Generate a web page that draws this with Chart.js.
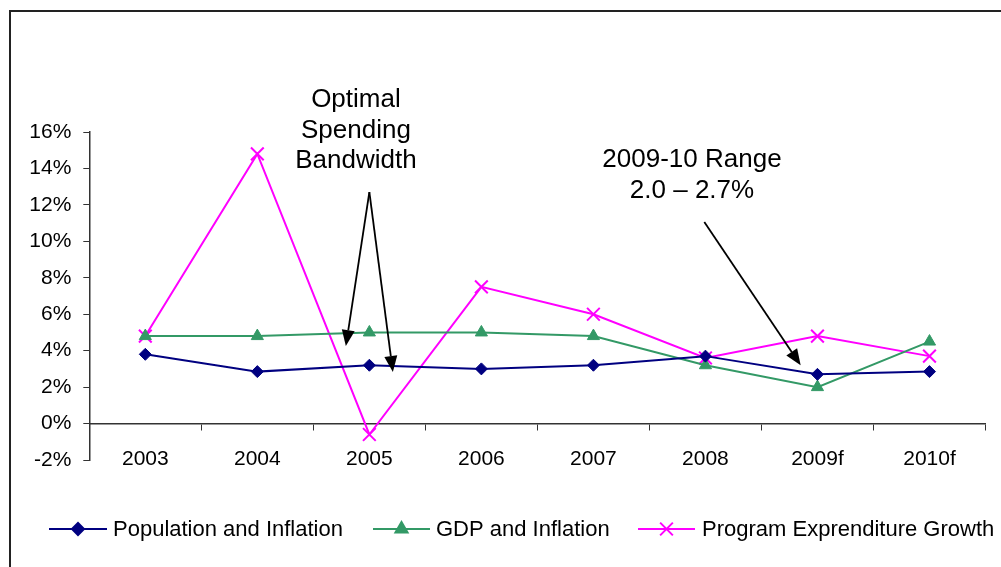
<!DOCTYPE html>
<html lang="en">
<head>
  <meta charset="UTF-8" />
  <title>Spending Growth</title>
  <script src="https://cdn.jsdelivr.net/npm/chart.js@4.4.1/dist/chart.umd.min.js"></script>
  <style>
    html, body { margin: 0; padding: 0; background: #fff; overflow: hidden; }
    #wrap { position: relative; width: 1001px; height: 567px; overflow: hidden; }
    #frame {
      position: absolute; left: 9px; top: 10px; width: 1200px; height: 800px;
      border: 2px solid #222; box-sizing: border-box;
    }
    #chart { position: absolute; left: 0; top: 0; }
  </style>
</head>
<body>
  <div id="wrap">
    <div id="frame"></div>
    <canvas id="chart" width="1001" height="567"></canvas>
  </div>

  <script>
    // ------------
    // DATA
    // ------------
    const years = ["2003", "2004", "2005", "2006", "2007", "2008", "2009f", "2010f"];
    const popInflation = [3.8, 2.85, 3.2, 3.0, 3.2, 3.7, 2.7, 2.85];
    const gdpInflation = [4.8, 4.8, 5.0, 5.0, 4.8, 3.2, 2.0, 4.5];
    const programGrowth = [4.8, 14.8, -0.6, 7.5, 6.0, 3.6, 4.8, 3.7];
    const yTicks = [-2, 0, 2, 4, 6, 8, 10, 12, 14, 16];

    const FONT = "'Liberation Sans', Arial, sans-serif";

    // -------------------------------
    // ANNOTATIONS (text + arrows, in data units: category index, percent)
    // -------------------------------
    const noteBlocks = [
      { x: 1.88, y: 17.75, lines: ["Optimal", "Spending", "Bandwidth"] },
      { x: 4.88, y: 14.45, lines: ["2009-10 Range", "2.0 \u2013 2.7%"] },
    ];
    const arrows = [
      { from: [2.0, 12.7], to: [1.79, 4.25] },
      { from: [2.0, 12.7], to: [2.21, 2.83] },
      { from: [4.99, 11.06], to: [5.85, 3.2] },
    ];

    function drawArrow(ctx, x1, y1, x2, y2) {
      const ang = Math.atan2(y2 - y1, x2 - x1);
      const len = 16, half = 6.5;
      const bx = x2 - len * Math.cos(ang);
      const by = y2 - len * Math.sin(ang);
      ctx.beginPath();
      ctx.moveTo(x1, y1);
      ctx.lineTo(bx, by);
      ctx.stroke();
      ctx.beginPath();
      ctx.moveTo(x2, y2);
      ctx.lineTo(bx + half * Math.sin(ang), by - half * Math.cos(ang));
      ctx.lineTo(bx - half * Math.sin(ang), by + half * Math.cos(ang));
      ctx.closePath();
      ctx.fill();
    }

    const notesPlugin = {
      id: "notes",
      afterDatasetsDraw(chart) {
        const { ctx, scales } = chart;
        ctx.save();
        ctx.fillStyle = "#000";
        ctx.strokeStyle = "#000";
        ctx.lineWidth = 1.8;
        ctx.font = "26px " + FONT;
        ctx.textAlign = "center";
        ctx.textBaseline = "middle";
        noteBlocks.forEach((b) => {
          const px = scales.x.getPixelForValue(b.x);
          const py = scales.y.getPixelForValue(b.y);
          b.lines.forEach((t, i) => ctx.fillText(t, px, py + i * 30.5));
        });
        arrows.forEach((a) => {
          drawArrow(
            ctx,
            scales.x.getPixelForValue(a.from[0]), scales.y.getPixelForValue(a.from[1]),
            scales.x.getPixelForValue(a.to[0]), scales.y.getPixelForValue(a.to[1])
          );
        });
        ctx.restore();
      },
    };

    // -------------------------------
    // LEGEND (line + marker + label)
    // -------------------------------
    const legendSlots = [
      { x0: 49, x1: 107, tx: 113 },
      { x0: 373, x1: 430, tx: 436 },
      { x0: 638, x1: 695, tx: 702 },
    ];
    const legendY = 529;

    const legendPlugin = {
      id: "lineLegend",
      afterDraw(chart) {
        const { ctx } = chart;
        ctx.save();
        ctx.font = "22px " + FONT;
        ctx.textAlign = "left";
        ctx.textBaseline = "middle";
        chart.data.datasets.forEach((ds, i) => {
          const s = legendSlots[i];
          ctx.strokeStyle = ds.borderColor;
          ctx.fillStyle = ds.backgroundColor;
          ctx.lineWidth = 2;
          ctx.beginPath();
          ctx.moveTo(s.x0, legendY);
          ctx.lineTo(s.x1, legendY);
          ctx.stroke();
          Chart.helpers.drawPoint(ctx, {
            pointStyle: ds.pointStyle,
            radius: ds.pointRadius,
            borderWidth: ds.pointBorderWidth,
            rotation: 0,
          }, (s.x0 + s.x1) / 2, legendY);
          ctx.fillStyle = "#000";
          ctx.fillText(ds.label, s.tx, legendY + 1);
        });
        ctx.restore();
      },
    };

    // -------------------------------
    // CHART
    // -------------------------------
    function series(label, data, color, style, radius) {
      return {
        label: label,
        data: data,
        borderColor: color,
        backgroundColor: color,
        borderWidth: 2,
        pointStyle: style,
        pointRadius: radius,
        pointHoverRadius: radius,
        pointBorderWidth: style === "crossRot" ? 2 : 1,
        tension: 0,
      };
    }

    new Chart(document.getElementById("chart"), {
      type: "line",
      data: {
        labels: years,
        datasets: [
          series("Population and Inflation", popInflation, "#000080", "rectRot", 6),
          series("GDP and Inflation", gdpInflation, "#339966", "triangle", 7),
          series("Program Exprenditure Growth", programGrowth, "#FF00FF", "crossRot", 9),
        ],
      },
      options: {
        responsive: false,
        animation: false,
        events: [],
        layout: { padding: { top: 132, bottom: 107, left: 0, right: 15.5 } },
        plugins: { legend: { display: false }, tooltip: { enabled: false } },
        scales: {
          x: {
            type: "category",
            offset: true,
            position: { y: 0 },
            grid: { drawOnChartArea: false, drawTicks: true, tickLength: 6, color: "#333", offset: true },
            border: { display: true, color: "#333", width: 1.5 },
            ticks: { color: "#000", font: { family: FONT, size: 21 }, padding: 17, maxRotation: 0 },
          },
          y: {
            min: -2,
            max: 16,
            afterFit(scale) { scale.width = 89.3; },
            afterBuildTicks(scale) { scale.ticks = yTicks.map((v) => ({ value: v })); },
            grid: { drawOnChartArea: false, drawTicks: true, tickLength: 6, color: "#333" },
            border: { display: true, color: "#333", width: 1.5 },
            ticks: {
              color: "#000",
              padding: 12,
              font: { family: FONT, size: 21 },
              callback: (v) => v + "%",
            },
          },
        },
      },
      plugins: [notesPlugin, legendPlugin],
    });
  </script>
</body>
</html>
